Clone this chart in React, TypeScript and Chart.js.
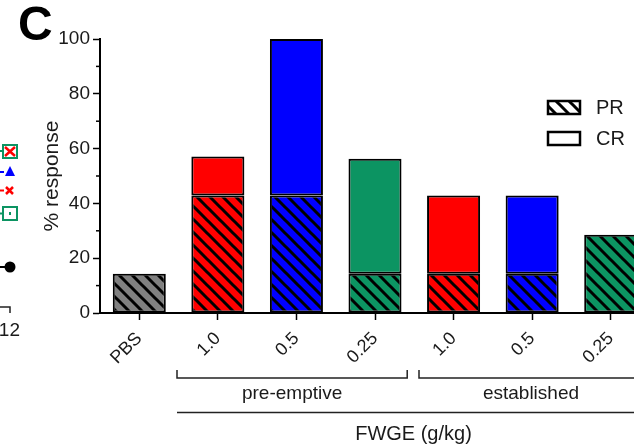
import React, { useEffect, useRef } from "react";
import { Chart, registerables } from "chart.js";

Chart.register(...registerables);

const categories = ["PBS", "1.0", "0.5", "0.25", "1.0", "0.5", "0.25"];
const prValues = [14.3, 42.9, 42.9, 14.3, 14.3, 14.3, 28.6];
const crValues: (number | null)[] = [null, 14.2, 57.1, 42.0, 28.6, 28.6, null];
const barColors = ["#808080", "#ff0000", "#0000ff", "#0c9462", "#ff0000", "#0000ff", "#0c9462"];
const seriesLabels = ["PR", "CR"];
const groupLabels = ["pre-emptive", "established"];
const groupFrom = [1, 4];
const groupTo = [3, 6];
const xTitle = "FWGE (g/kg)";
const yTitle = "% response";
const panelLetter = "C";
const yMax = 100;
const yStep = 10;
const yLabelEvery = 20;

const FONT = "'Liberation Sans', Arial, Helvetica, sans-serif";
const TEXT = "#1a1a1a";

function hatch(bg: string): CanvasPattern | string {
  const s = 13;
  const c = document.createElement("canvas");
  c.width = s;
  c.height = s;
  const g = c.getContext("2d");
  if (!g) return bg;
  g.fillStyle = bg;
  g.fillRect(0, 0, s, s);
  g.strokeStyle = "#000";
  g.lineWidth = 3;
  g.beginPath();
  for (const off of [-s, 0, s]) {
    g.moveTo(-s, -s + off);
    g.lineTo(2 * s, 2 * s + off);
  }
  g.stroke();
  const p = g.createPattern(c, "repeat");
  return p || bg;
}

const decorPlugin = {
  id: "decor",
  afterDraw(chart: any) {
    const ctx: CanvasRenderingContext2D = chart.ctx;
    const xs = chart.scales.x;
    const ys = chart.scales.y;
    const W = chart.width;
    ctx.save();

    // minor y ticks
    ctx.strokeStyle = "#000";
    ctx.lineWidth = 1.5;
    for (let v = 0; v <= yMax; v += yStep) {
      if (v % yLabelEvery === 0) continue;
      const py = ys.getPixelForValue(v);
      ctx.beginPath();
      ctx.moveTo(xs.left - 4, py);
      ctx.lineTo(xs.left, py);
      ctx.stroke();
    }

    // panel letter
    ctx.fillStyle = "#000";
    ctx.font = `bold 48px ${FONT}`;
    ctx.textAlign = "left";
    ctx.textBaseline = "middle";
    ctx.fillText(panelLetter, 18, 27);

    // group brackets
    const step = xs.getPixelForValue(1) - xs.getPixelForValue(0);
    const bracketY = 378;
    ctx.strokeStyle = "#222";
    ctx.lineWidth = 1.5;
    ctx.font = `19px ${FONT}`;
    ctx.fillStyle = TEXT;
    ctx.textAlign = "center";
    let firstStart = 0;
    groupLabels.forEach((lab, i) => {
      const start = xs.getPixelForValue(groupFrom[i]) - step * (i === 0 ? 0.52 : 0.44);
      const last = i === groupLabels.length - 1;
      const end = last ? W + 5 : xs.getPixelForValue(groupTo[i]) + step * 0.41;
      if (i === 0) firstStart = start;
      ctx.beginPath();
      ctx.moveTo(start, bracketY - 8);
      ctx.lineTo(start, bracketY);
      ctx.lineTo(end, bracketY);
      if (!last) ctx.lineTo(end, bracketY - 8);
      ctx.stroke();
      const cx = last
        ? (start + xs.getPixelForValue(groupTo[i]) + step * 0.41) / 2
        : (start + end) / 2;
      ctx.fillText(lab, cx, 394);
    });
    ctx.beginPath();
    ctx.moveTo(firstStart, 412.5);
    ctx.lineTo(W, 412.5);
    ctx.stroke();
    ctx.font = `20px ${FONT}`;
    ctx.fillText(xTitle, (firstStart + W) / 2, 434);

    // legend
    const ds = chart.data.datasets;
    const lx = 548;
    const ly = [101, 132];
    ds.forEach((d: any, i: number) => {
      ctx.fillStyle = i === 0 ? (hatch("#ffffff") as any) : "#ffffff";
      ctx.fillRect(lx, ly[i], 32, 13);
      ctx.strokeStyle = "#000";
      ctx.lineWidth = 2.5;
      ctx.strokeRect(lx, ly[i], 32, 13);
      ctx.fillStyle = TEXT;
      ctx.font = `20px ${FONT}`;
      ctx.textAlign = "left";
      ctx.textBaseline = "middle";
      ctx.fillText(d.label, 596, ly[i] + 7.5);
    });

    // fragments of neighbouring panel
    ctx.lineWidth = 2;
    ctx.strokeStyle = "#0c9462";
    ctx.beginPath(); ctx.moveTo(-2, 151); ctx.lineTo(3, 151); ctx.stroke();
    ctx.strokeRect(3, 145, 14, 13);
    ctx.strokeStyle = "#ff0000";
    ctx.lineWidth = 2.5;
    ctx.beginPath();
    ctx.moveTo(5, 147); ctx.lineTo(15, 156); ctx.moveTo(15, 147); ctx.lineTo(5, 156);
    ctx.stroke();
    ctx.lineWidth = 2;
    ctx.fillStyle = "#0000ff";
    ctx.strokeStyle = "#0000ff";
    ctx.beginPath(); ctx.moveTo(0, 172); ctx.lineTo(4, 172); ctx.stroke();
    ctx.beginPath(); ctx.moveTo(10, 166); ctx.lineTo(15, 176); ctx.lineTo(5, 176); ctx.closePath(); ctx.fill();
    ctx.strokeStyle = "#ff0000";
    ctx.beginPath(); ctx.moveTo(0, 190.5); ctx.lineTo(4, 190.5); ctx.stroke();
    ctx.lineWidth = 2.5;
    ctx.beginPath();
    ctx.moveTo(6, 187); ctx.lineTo(13, 194); ctx.moveTo(13, 187); ctx.lineTo(6, 194);
    ctx.stroke();
    ctx.lineWidth = 2;
    ctx.strokeStyle = "#0c9462";
    ctx.beginPath(); ctx.moveTo(-2, 213.5); ctx.lineTo(3, 213.5); ctx.stroke();
    ctx.strokeRect(3, 207, 14, 13);
    ctx.fillStyle = "#0c9462";
    ctx.fillRect(9, 212, 2, 3);
    ctx.strokeStyle = "#000";
    ctx.fillStyle = "#000";
    ctx.beginPath(); ctx.moveTo(0, 267); ctx.lineTo(8, 267); ctx.stroke();
    ctx.beginPath(); ctx.arc(10, 267, 5.5, 0, Math.PI * 2); ctx.fill();
    ctx.lineWidth = 1.5;
    ctx.strokeStyle = "#222";
    ctx.beginPath(); ctx.moveTo(0, 307); ctx.lineTo(10, 307); ctx.lineTo(10, 313); ctx.stroke();
    ctx.fillStyle = TEXT;
    ctx.font = `19px ${FONT}`;
    ctx.textAlign = "right";
    ctx.fillText("12", 20, 331);

    ctx.restore();
  },
};

export default function App() {
  const ref = useRef<HTMLCanvasElement | null>(null);

  useEffect(() => {
    if (!ref.current) return;
    Chart.defaults.font.family = FONT;
    const chart = new Chart(ref.current, {
      type: "bar",
      data: {
        labels: categories,
        datasets: [
          {
            label: seriesLabels[0],
            data: prValues,
            backgroundColor: barColors.map((c) => hatch(c)) as any,
            borderColor: "#000",
            borderWidth: 2,
            borderSkipped: false,
            stack: "s",
            barPercentage: 0.675,
            categoryPercentage: 1,
          },
          {
            label: seriesLabels[1],
            data: crValues,
            backgroundColor: barColors,
            borderColor: "#000",
            borderWidth: 2,
            borderSkipped: false,
            stack: "s",
            barPercentage: 0.675,
            categoryPercentage: 1,
          },
        ],
      },
      options: {
        responsive: false,
        animation: false,
        devicePixelRatio: 1,
        layout: { padding: { left: 36, top: 39, right: 0, bottom: 0 } },
        plugins: { legend: { display: false }, tooltip: { enabled: false } },
        scales: {
          x: {
            type: "category",
            offset: true,
            stacked: true,
            grid: {
              display: true,
              offset: false,
              drawOnChartArea: false,
              tickLength: 7,
              tickColor: "#000",
              tickWidth: 1.5,
            },
            border: { display: true, color: "#000", width: 2 },
            ticks: {
              color: TEXT,
              font: { size: 18 },
              maxRotation: 45,
              minRotation: 45,
              padding: 8,
              autoSkip: false,
            },
            afterFit: (s: any) => {
              s.height = 134;
            },
          },
          y: {
            min: 0,
            max: yMax,
            stacked: true,
            grid: {
              display: true,
              drawOnChartArea: false,
              tickLength: 7,
              tickWidth: 1.5,
              tickColor: (c: any) => (c.tick && c.tick.value % yLabelEvery === 0 ? "#000" : "rgba(0,0,0,0)"),
            },
            border: { display: true, color: "#000", width: 2 },
            ticks: {
              stepSize: yStep,
              color: TEXT,
              font: { size: 19 },
              padding: 3,
              autoSkip: false,
              callback: (v: any) => (Number(v) % yLabelEvery === 0 ? String(v) : ""),
            },
            title: {
              display: true,
              text: yTitle,
              color: TEXT,
              font: { size: 21 },
              padding: { top: 4, bottom: 4 },
            },
            afterFit: (s: any) => {
              s.width = 64;
            },
          },
        },
      },
      plugins: [decorPlugin],
    });
    return () => chart.destroy();
  }, []);

  return (
    <div
      style={{
        position: "fixed",
        left: 0,
        top: 0,
        width: 634,
        height: 447,
        overflow: "hidden",
        background: "#fff",
      }}
    >
      <canvas ref={ref} width={650} height={447} style={{ width: 650, height: 447, display: "block" }} />
    </div>
  );
}
